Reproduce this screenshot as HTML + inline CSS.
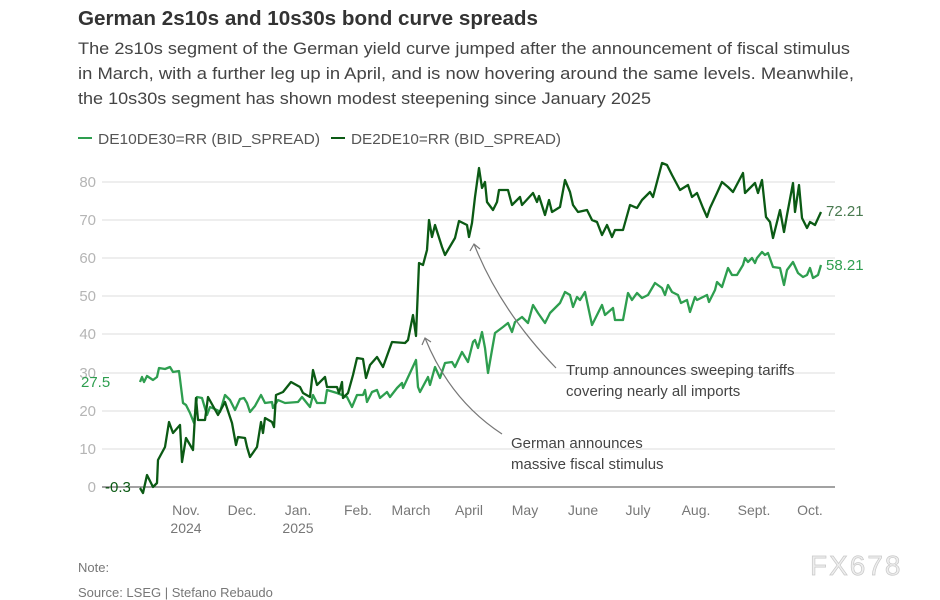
<!DOCTYPE html>
<html><head><meta charset="utf-8"><style>
html,body{margin:0;padding:0;background:#fff;}
svg{display:block;font-family:"Liberation Sans",sans-serif;}
</style></head><body>
<svg width="940" height="600" viewBox="0 0 940 600" xmlns="http://www.w3.org/2000/svg">
<text x="78" y="25" font-size="20" font-weight="bold" fill="#333" textLength="460" lengthAdjust="spacingAndGlyphs">German 2s10s and 10s30s bond curve spreads</text>
<g font-size="17" fill="#444">
<text x="78" y="54" textLength="772" lengthAdjust="spacingAndGlyphs">The 2s10s segment of the German yield curve jumped after the announcement of fiscal stimulus</text>
<text x="78" y="79" textLength="776" lengthAdjust="spacingAndGlyphs">in March, with a further leg up in April, and is now hovering around the same levels. Meanwhile,</text>
<text x="78" y="104" textLength="573" lengthAdjust="spacingAndGlyphs">the 10s30s segment has shown modest steepening since January 2025</text>
</g>
<g font-size="15" fill="#555">
<line x1="78" y1="138" x2="92" y2="138" stroke="#2e9e4f" stroke-width="2"/>
<text x="98" y="144" textLength="222" lengthAdjust="spacingAndGlyphs">DE10DE30=RR (BID_SPREAD)</text>
<line x1="331" y1="138" x2="345" y2="138" stroke="#0b5a14" stroke-width="2"/>
<text x="351" y="144" textLength="210" lengthAdjust="spacingAndGlyphs">DE2DE10=RR (BID_SPREAD)</text>
</g>
<g stroke="#ddd" stroke-width="1">
<line x1="102" y1="182" x2="835" y2="182"/><line x1="102" y1="220" x2="835" y2="220"/>
<line x1="102" y1="258" x2="835" y2="258"/><line x1="102" y1="296" x2="835" y2="296"/>
<line x1="102" y1="334" x2="835" y2="334"/><line x1="102" y1="373" x2="835" y2="373"/>
<line x1="102" y1="411" x2="835" y2="411"/><line x1="102" y1="449" x2="835" y2="449"/>
</g>
<line x1="102" y1="487" x2="835" y2="487" stroke="#444" stroke-width="1"/>
<g font-size="15" fill="#b5b5b5" text-anchor="end">
<text x="96" y="187">80</text><text x="96" y="225">70</text><text x="96" y="263">60</text>
<text x="96" y="301">50</text><text x="96" y="339">40</text><text x="96" y="378">30</text>
<text x="96" y="416">20</text><text x="96" y="454">10</text><text x="96" y="492">0</text>
</g>
<g font-size="14" fill="#777" text-anchor="middle">
<text x="186" y="515">Nov.</text><text x="186" y="533">2024</text>
<text x="242" y="515">Dec.</text>
<text x="298" y="515">Jan.</text><text x="298" y="533">2025</text>
<text x="358" y="515">Feb.</text><text x="411" y="515">March</text><text x="469" y="515">April</text>
<text x="525" y="515">May</text><text x="583" y="515">June</text><text x="638" y="515">July</text>
<text x="696" y="515">Aug.</text><text x="754" y="515">Sept.</text><text x="810" y="515">Oct.</text>
</g>
<polyline fill="none" stroke="#2e9e4f" stroke-width="2.3" stroke-linejoin="round" points="140,382 142,377 144,382 147,376 153,380 157,377 159,368 165,369 170,367 173,372 179,371 183,403 186,405 190,413 194,423 197,397 202,398 207,415 210,407 217,410 220,412 225,395 230,400 235,410 240,399 244,398 247,403 250,412 255,406 261,395 265,403 272,402 273,408 278,400 285,403 298,402 302,397 310,407 313,395 317,403 325,403 327,390 337,393 347,397 352,407 357,395 363,395 365,390 367,402 372,392 377,390 380,398 387,392 390,397 397,388 402,383 403,388 410,373 416,360 418,387 420,392 428,377 430,385 435,367 440,378 445,363 452,362 455,367 462,352 468,362 473,342 475,340 478,348 482,332 485,348 488,373 492,350 495,333 503,327 508,323 512,332 515,322 522,317 528,323 533,305 538,313 545,323 550,313 560,303 565,292 570,295 573,307 577,297 580,300 585,292 592,325 602,305 605,315 613,308 615,320 623,320 628,293 632,300 637,293 642,298 648,295 655,283 662,288 665,295 668,285 672,292 678,295 681,303 687,300 690,312 695,297 697,300 707,295 709,302 715,290 717,282 722,287 728,268 732,275 737,275 743,265 745,258 748,262 752,258 755,263 757,258 762,252 765,255 768,253 773,267 780,268 784,285 787,270 793,262 798,273 803,277 807,275 810,268 813,278 818,275 821,265"/>
<polyline fill="none" stroke="#0b5a14" stroke-width="2.3" stroke-linejoin="round" points="140,488 143,493 147,475 153,487 157,483 158,460 165,447 169,422 173,433 180,425 182,462 186,438 193,450 196,398 198,420 205,420 208,397 218,415 225,402 232,423 236,445 238,437 245,438 247,447 250,457 257,447 261,422 263,433 265,418 272,422 274,427 276,395 283,392 291,382 300,387 303,393 310,397 313,370 317,385 325,377 327,387 337,387 339,393 342,382 343,398 348,393 353,375 357,358 363,359 366,378 370,365 377,357 383,367 392,342 405,343 408,340 413,315 416,336 419,263 423,265 427,250 429,220 432,237 435,225 442,247 445,255 455,238 459,221 467,225 469,237 472,223 475,197 479,168 482,188 485,182 487,202 493,210 497,202 499,190 508,190 512,205 520,197 522,205 533,193 537,202 539,196 545,215 549,200 552,212 560,207 565,180 570,192 573,205 578,212 587,210 592,220 597,222 602,235 607,225 612,237 615,230 623,230 630,205 637,208 642,200 650,192 653,197 662,163 667,165 672,175 680,190 688,185 692,197 697,193 703,208 707,217 710,208 717,193 722,182 728,187 733,192 743,173 745,193 755,183 758,193 762,180 766,217 770,222 773,238 780,210 784,232 787,215 793,183 795,212 799,185 802,218 807,228 810,222 815,225 821,212"/>
<text x="81" y="387" font-size="15" fill="#2e9e4f">27.5</text>
<text x="105" y="492" font-size="15" fill="#0b5a14">-0.3</text>
<text x="826" y="216" font-size="15" fill="#4a7a50">72.21</text>
<text x="826" y="270" font-size="15" fill="#2e9e4f">58.21</text>
<g fill="none" stroke="#777" stroke-width="1.2">
<path d="M556,368 Q500,310 474,244"/><path d="M470,251 L474,244 L480,249"/>
<path d="M502,434 Q450,400 425,338"/><path d="M422,345 L425,338 L431,342"/>
</g>
<g font-size="15" fill="#444">
<text x="566" y="375">Trump announces sweeping tariffs</text>
<text x="566" y="396">covering nearly all imports</text>
<text x="511" y="448">German announces</text>
<text x="511" y="469">massive fiscal stimulus</text>
</g>
<g font-size="13" fill="#777">
<text x="78" y="572">Note:</text>
<text x="78" y="597">Source: LSEG | Stefano Rebaudo</text>
</g>
<text x="810" y="575" font-size="28" fill="#eee" letter-spacing="2" stroke="#c8c8c8" stroke-width="0.7">FX678</text>
</svg>
</body></html>
